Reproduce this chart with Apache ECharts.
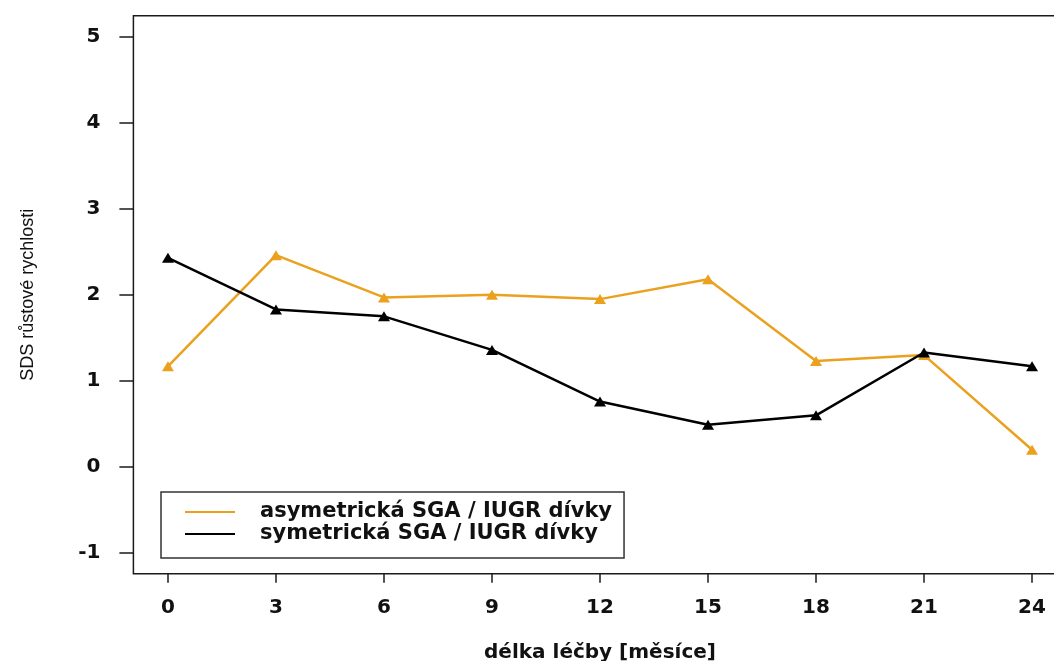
<!DOCTYPE html>
<html>
<head>
<meta charset="utf-8">
<script src="https://cdn.jsdelivr.net/npm/echarts@6/dist/echarts.min.js"></script>
<style>
  html, body { margin: 0; padding: 0; background: #fff; overflow: hidden; }
  #chart { width: 1054px; height: 661px; }
</style>
</head>
<body>
<div id="chart"></div>
<script>
// Growth velocity SDS over treatment duration, SGA / IUGR girls
const months = [0, 3, 6, 9, 12, 15, 18, 21, 24];
const yTicks = [-1, 0, 1, 2, 3, 4, 5];
const asymName = 'asymetrická SGA / IUGR dívky';
const symName = 'symetrická SGA / IUGR dívky';
const asymValues = [1.17, 2.46, 1.97, 2.00, 1.95, 2.18, 1.23, 1.30, 0.20];
const symValues = [2.43, 1.83, 1.75, 1.36, 0.76, 0.49, 0.60, 1.33, 1.17];

const pairs = (vals) => months.map((m, i) => [m, vals[i]]);

const boldFont = { fontFamily: 'DejaVu Sans', fontWeight: 'bold', color: '#111' };
const tickStyle = { color: '#1a1a1a', width: 1.5 };

const chart = echarts.init(document.getElementById('chart'), null, { renderer: 'canvas' });
chart.setOption({
  animation: false,
  backgroundColor: '#fff',
  grid: {
    left: 133.4, right: -12.6, top: 15.8, bottom: 87.2,
    outerBoundsMode: 'none',
    containLabel: false,
    show: true, borderColor: '#1a1a1a', borderWidth: 1.5, backgroundColor: 'transparent'
  },
  legend: {
    left: 161, top: 492, orient: 'vertical',
    backgroundColor: '#fff',
    borderColor: '#333', borderWidth: 1.5, borderRadius: 0,
    padding: [9, 12, 13, 24], itemGap: 0,
    itemWidth: 50, itemHeight: 2, icon: 'rect',
    textStyle: Object.assign({ fontSize: 21, lineHeight: 22, padding: [0, 0, 0, 20] }, boldFont),
    data: [asymName, symName]
  },
  xAxis: {
    type: 'value', min: -0.96, max: 24.96,
    name: 'délka léčby [měsíce]', nameLocation: 'middle', nameGap: 69,
    nameTextStyle: Object.assign({ fontSize: 20 }, boldFont),
    axisLine: { show: false, onZero: false },
    axisTick: { show: true, length: 9, customValues: months, lineStyle: tickStyle },
    axisLabel: Object.assign({ customValues: months, margin: 24, fontSize: 20 }, boldFont),
    splitLine: { show: false }
  },
  yAxis: {
    type: 'value', min: -1.24, max: 5.24,
    name: 'SDS růstové rychlosti', nameLocation: 'middle', nameGap: 96,
    nameTextStyle: { fontFamily: 'Liberation Sans', fontSize: 18, color: '#111' },
    axisLine: { show: false, onZero: false },
    axisTick: { show: true, length: 14, customValues: yTicks, lineStyle: tickStyle },
    axisLabel: Object.assign({ customValues: yTicks, margin: 33, fontSize: 20 }, boldFont),
    splitLine: { show: false }
  },
  series: [
    {
      name: asymName, type: 'line', data: pairs(asymValues),
      color: '#EBA11E',
      lineStyle: { color: '#EBA11E', width: 2.5 },
      itemStyle: { color: '#EBA11E' },
      symbol: 'triangle', symbolSize: [12, 10], showSymbol: true
    },
    {
      name: symName, type: 'line', data: pairs(symValues),
      color: '#000',
      lineStyle: { color: '#000', width: 2.5 },
      itemStyle: { color: '#000' },
      symbol: 'triangle', symbolSize: [12, 10], showSymbol: true
    }
  ]
});
</script>
</body>
</html>
